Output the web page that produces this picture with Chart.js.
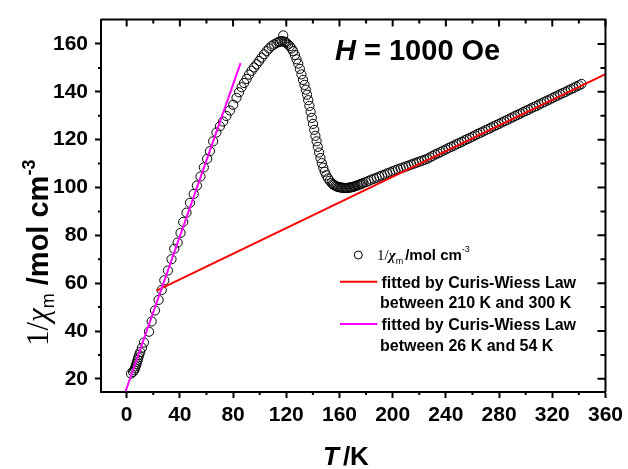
<!DOCTYPE html>
<html>
<head>
<meta charset="utf-8">
<script src="https://cdn.jsdelivr.net/npm/chart.js@4"></script>
<style>
  html, body { margin: 0; padding: 0; background: #fff; }
  canvas { display: block; }
</style>
</head>
<body>
<canvas id="chart" width="628" height="469"></canvas>
<script>
// measured inverse susceptibility vs temperature
const tempK = [
  3.3, 4.8, 5.6, 6.2, 6.8, 7.3, 7.8, 8.3, 8.8, 9.4, 10.2, 11.5, 13.0, 16.8, 18.8, 21.3, 24.0,
  26.3, 28.3, 31.0, 33.7, 35.8, 38.3, 40.5, 42.5, 45.0, 47.6, 50.4, 52.8, 55.5, 58.0, 60.5, 62.6,
  65.0, 67.5, 70.1, 72.5, 75.0, 77.6, 80.1, 82.6, 84.5, 86.4, 88.3, 90.2, 92.0, 93.9, 95.8, 97.7,
  99.6, 101.4, 103.3, 105.2, 107.0, 108.9, 110.8, 112.7, 114.0, 115.2, 116.3, 117.0, 117.7, 118.4,
  119.3, 120.2, 121.4, 122.7, 124.0, 125.2, 126.5, 127.7, 129.0, 130.2, 131.4, 132.6, 133.7, 134.7,
  135.6, 136.5, 137.4, 138.3, 139.2, 140.1, 141.0, 141.9, 142.8, 143.7, 144.7, 145.7, 146.7, 147.8,
  148.9, 150.1, 151.4, 152.7, 154.1, 155.0, 156.0, 157.0, 158.0, 159.0, 160.0, 161.0, 162.0, 163.0,
  164.0, 165.0, 166.0, 167.0, 168.0, 169.0, 170.0, 171.0, 172.0, 173.0, 174.0, 175.0, 176.0, 177.0,
  178.0, 180, 182, 184, 186, 188, 190, 192, 194, 196, 198, 200, 202, 204, 206, 208, 210, 212, 214,
  216, 218, 220, 222, 224, 226, 228, 230, 232, 234, 236, 238, 240, 242, 244, 246, 248, 250, 252,
  254, 256, 258, 260, 262, 264, 266, 268, 270, 272, 274, 276, 278, 280, 282, 284, 286, 288, 290,
  292, 294, 296, 298, 300, 302, 304, 306, 308, 310, 312, 314, 316, 318, 320, 322, 324, 326, 328,
  330, 332, 334, 336, 338, 340, 342
];
const invChi = [
  22.2, 22.9, 23.6, 24.4, 25.3, 26.2, 27.1, 28.0, 29.0, 30.0, 31.2, 33.0, 35.2, 39.7, 44.0, 48.6, 53.0,
  57.1, 61.2, 65.3, 70.0, 74.4, 77.0, 81.0, 85.6, 89.5, 93.6, 97.3, 100.8, 104.6, 108.4, 112.0, 115.2,
  119.3, 123.0, 125.6, 127.6, 129.9, 132.2, 134.6, 137.5, 139.8, 141.9, 143.7, 145.4, 147.2, 148.8, 150.2, 151.5,
  152.9, 154.3, 155.7, 157.0, 158.1, 159.1, 159.8, 160.4, 160.8, 161.0, 161.2, 161.1, 163.6, 161.0,
  160.8, 160.4, 159.8, 159.1, 158.1, 157.0, 155.4, 153.6, 151.8, 149.6, 147.3, 145.0, 142.9, 140.9,
  138.8, 136.5, 134.1, 131.6, 129.1, 126.6, 124.1, 121.6, 119.3, 117.0, 114.6, 112.3, 110.2, 108.3,
  106.6, 105.1, 103.8, 102.8, 101.9, 101.4, 101.0, 100.7, 100.4, 100.2, 100.1, 100.0, 99.9, 99.8,
  99.8, 99.8, 99.8, 99.9, 100.0, 100.1, 100.2, 100.4, 100.6, 100.8, 101.0, 101.2, 101.4, 101.6,
  101.9, 102.3, 102.8, 103.3, 103.7, 104.1, 104.6, 105.0, 105.4, 105.9, 106.3, 106.8, 107.2, 107.6, 108.0, 108.4, 108.8, 109.2, 109.6,
  110.0, 110.4, 110.8, 111.2, 111.6, 112.0, 112.6, 113.2, 113.8, 114.3, 114.8, 115.4, 115.9, 116.5, 117.0, 117.5, 118.1, 118.6, 119.1,
  119.7, 120.2, 120.7, 121.3, 121.8, 122.4, 122.9, 123.4, 124.0, 124.5, 125.0, 125.6, 126.1, 126.6, 127.2, 127.7, 128.2, 128.8, 129.3,
  129.9, 130.4, 130.9, 131.5, 132.0, 132.5, 133.1, 133.6, 134.1, 134.7, 135.2, 135.8, 136.3, 136.8, 137.4, 137.9, 138.4, 139.0, 139.5,
  140.0, 140.6, 141.1, 141.6, 142.2, 142.7, 143.3
];

// Curie-Weiss fit lines (end points)
const fitHighT = [22.5, 360];
const fitHighV = [56.9, 147.4];
const fitLowT = [-0.8, 85.6];
const fitLowV = [14.8, 152.0];

// axis ranges and tick steps
const xRange = [-19.3, 360];
const yRange = [14.5, 170.2];
const xMajor = 40, xMinor = 20;
const yMajor = 20, yMinor = 10;

const SANS = "'Liberation Sans', Arial, sans-serif";
const SERIF = "'Liberation Serif', 'Times New Roman', serif";

const toPoints = (xs, ys) => xs.map((t, i) => ({ x: t, y: ys[i] }));

// draws a list of text pieces one after another, returns end x
function drawRuns(ctx, x, y, runs) {
  runs.forEach(r => {
    ctx.font = r.font;
    ctx.fillText(r.text, x, y + (r.dy || 0));
    x += ctx.measureText(r.text).width + (r.gap || 0);
  });
  return x;
}

const framePlugin = {
  id: 'frame',
  afterDraw(chart) {
    const { ctx, chartArea: a, scales: { x, y } } = chart;
    ctx.save();
    ctx.strokeStyle = '#000';
    ctx.lineWidth = 2;
    ctx.beginPath();
    ctx.moveTo(a.left, a.top);
    ctx.lineTo(a.right, a.top);
    ctx.lineTo(a.right, a.bottom);
    ctx.stroke();

    // x ticks: minor outward at bottom, all inward at top
    ctx.beginPath();
    for (let v = 0; v <= xRange[1]; v += xMinor) {
      const px = x.getPixelForValue(v);
      const major = v % xMajor === 0;
      if (!major) { ctx.moveTo(px, a.bottom); ctx.lineTo(px, a.bottom + 3); }
      ctx.moveTo(px, a.top); ctx.lineTo(px, a.top + (major ? 7 : 4));
    }
    // y ticks: minor outward at left, all inward at right
    for (let v = 20; v < yRange[1] - 1; v += yMinor) {
      const py = y.getPixelForValue(v);
      const major = v % yMajor === 0;
      if (!major) { ctx.moveTo(a.left, py); ctx.lineTo(a.left - 3, py); }
      ctx.moveTo(a.right, py); ctx.lineTo(a.right - (major ? 8 : 5), py);
    }
    ctx.stroke();

    ctx.fillStyle = '#000';
    ctx.textBaseline = 'alphabetic';
    ctx.textAlign = 'left';

    // field label
    drawRuns(ctx, 335, 60, [
      { text: 'H', font: `italic bold 29px ${SANS}` },
      { text: ' = 1000 Oe', font: `bold 29px ${SANS}` }
    ]);

    // x title
    drawRuns(ctx, 323, 465, [
      { text: 'T', font: `italic bold 26px ${SANS}`, gap: 4 },
      { text: '/K', font: `bold 26px ${SANS}` }
    ]);

    // y title, rotated
    ctx.save();
    ctx.translate(48, 346);
    ctx.rotate(-Math.PI / 2);
    drawRuns(ctx, 0, 0, [
      { text: '1/', font: `31px ${SERIF}` },
      { text: 'χ', font: `italic 31px ${SERIF}` },
      { text: 'm', font: `18px ${SANS}`, dy: 6 },
      { text: ' /mol cm', font: `bold 29px ${SANS}` },
      { text: '-3', font: `bold 18px ${SANS}`, dy: -13 }
    ]);
    ctx.restore();

    // legend
    ctx.lineWidth = 1;
    ctx.beginPath();
    ctx.arc(358.3, 255, 4, 0, Math.PI * 2);
    ctx.stroke();
    drawRuns(ctx, 377, 260, [
      { text: '1/', font: `15px ${SERIF}` },
      { text: 'χ', font: `italic bold 15px ${SERIF}` },
      { text: 'm', font: `9px ${SANS}`, dy: 4, gap: 2 },
      { text: '/mol cm', font: `bold 15px ${SANS}` },
      { text: '-3', font: `9px ${SANS}`, dy: -8 }
    ]);

    ctx.lineWidth = 2;
    ctx.strokeStyle = '#ff0000';
    ctx.beginPath();
    ctx.moveTo(340, 281.7); ctx.lineTo(377.3, 281.7);
    ctx.stroke();
    ctx.strokeStyle = '#ff00ff';
    ctx.beginPath();
    ctx.moveTo(340, 324); ctx.lineTo(377.3, 324);
    ctx.stroke();

    ctx.font = `bold 16px ${SANS}`;
    ctx.fillText('fitted by Curis-Wiess Law', 381.5, 288.3);
    ctx.fillText('between 210 K and 300 K', 380, 308.3);
    ctx.fillText('fitted by Curis-Wiess Law', 381.5, 330.3);
    ctx.fillText('between 26 K and 54 K', 380, 350.7);
    ctx.restore();
  }
};

const tickFont = { family: SANS, size: 21, weight: 'bold' };

new Chart(document.getElementById('chart'), {
  type: 'scatter',
  data: {
    datasets: [
      {
        label: '1/χm /mol cm-3',
        data: toPoints(tempK, invChi),
        showLine: false,
        pointStyle: 'circle',
        pointRadius: 4.6,
        pointBorderWidth: 1,
        borderColor: '#000',
        backgroundColor: 'rgba(0,0,0,0)',
        order: 2
      },
      {
        label: 'fitted by Curis-Wiess Law between 210 K and 300 K',
        data: toPoints(fitHighT, fitHighV),
        showLine: true,
        borderColor: '#ff0000',
        borderWidth: 2,
        pointRadius: 0,
        order: 1
      },
      {
        label: 'fitted by Curis-Wiess Law between 26 K and 54 K',
        data: toPoints(fitLowT, fitLowV),
        showLine: true,
        borderColor: '#ff00ff',
        borderWidth: 2,
        pointRadius: 0,
        order: 0
      }
    ]
  },
  options: {
    responsive: false,
    animation: false,
    layout: { padding: { left: 0, top: 13, right: 22, bottom: 0 } },
    plugins: { legend: { display: false }, tooltip: { enabled: false } },
    scales: {
      x: {
        type: 'linear',
        min: xRange[0],
        max: xRange[1],
        ticks: { stepSize: xMajor, includeBounds: false, autoSkip: false, maxRotation: 0,
                 font: tickFont, color: '#000', padding: 5 },
        grid: { drawOnChartArea: false, tickLength: 6, tickWidth: 2, tickColor: '#000' },
        border: { color: '#000', width: 2 },
        afterFit(s) { s.height = 77; }
      },
      y: {
        type: 'linear',
        min: yRange[0],
        max: yRange[1],
        ticks: { stepSize: yMajor, includeBounds: false, autoSkip: false,
                 font: tickFont, color: '#000', padding: 7 },
        grid: { drawOnChartArea: false, tickLength: 6, tickWidth: 2, tickColor: '#000' },
        border: { color: '#000', width: 2 },
        afterFit(s) { s.width = 101; }
      }
    }
  },
  plugins: [framePlugin]
});
</script>
</body>
</html>
